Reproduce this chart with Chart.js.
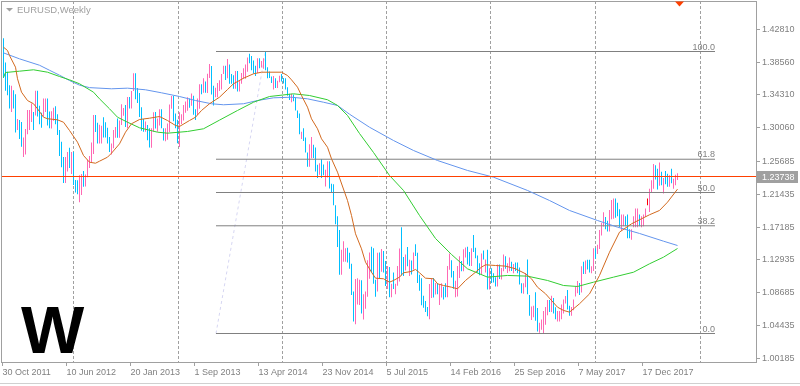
<!DOCTYPE html>
<html>
<head>
<meta charset="utf-8">
<script src="https://cdn.jsdelivr.net/npm/chart.js@4.4.0/dist/chart.umd.min.js"></script>
<style>
  html, body { margin: 0; padding: 0; background: #ffffff; }
  canvas { display: block; }
</style>
</head>
<body>
<canvas id="chart" width="800" height="386"></canvas>
<script>
// EURUSD weekly bars, week 0 = 30 Oct 2011 (one entry per week)
const high2011 = [1.4165, 1.3850, 1.3730, 1.3555, 1.3550, 1.3490, 1.3440, 1.3120, 1.3105];
const low2011  = [1.3650, 1.3485, 1.3425, 1.3255, 1.3210, 1.3255, 1.2945, 1.2975, 1.2860];
const dir2011  = [-1, -1, -1, -1, 1, -1, -1, 1, -1];

const high2012 = [1.3080, 1.2880, 1.2990, 1.3235, 1.3235, 1.3320, 1.3210, 1.3485, 1.3485, 1.3290,
  1.3200, 1.3385, 1.3385, 1.3385, 1.3215, 1.3220, 1.3265, 1.3285, 1.3180, 1.2975,
  1.2825, 1.2625, 1.2625, 1.2690, 1.2745, 1.2690, 1.2690, 1.2330, 1.2325, 1.2390,
  1.2405, 1.2445, 1.2400, 1.2590, 1.2640, 1.2815, 1.3170, 1.3170, 1.3070, 1.3045,
  1.3030, 1.3140, 1.3075, 1.3005, 1.2885, 1.2800, 1.2975, 1.3015, 1.3125, 1.3100,
  1.3310, 1.3260, 1.3300];
const low2012 = [1.2760, 1.2625, 1.2660, 1.2920, 1.2975, 1.3080, 1.2975, 1.3165, 1.3150, 1.3050,
  1.3005, 1.3150, 1.3210, 1.3035, 1.3000, 1.2995, 1.3095, 1.3050, 1.2910, 1.2640,
  1.2495, 1.2290, 1.2290, 1.2440, 1.2485, 1.2405, 1.2265, 1.2165, 1.2145, 1.2040,
  1.2135, 1.2240, 1.2245, 1.2365, 1.2485, 1.2560, 1.2665, 1.2950, 1.2800, 1.2800,
  1.2800, 1.2880, 1.2880, 1.2800, 1.2690, 1.2660, 1.2740, 1.2875, 1.2875, 1.2875,
  1.3040, 1.3160, 1.3015];
const dir2012 = [-1, 1, 1, 1, 1, 1, -1, 1, -1, -1,
  -1, 1, 1, -1, -1, 1, 1, -1, -1, -1,
  -1, -1, 1, 1, -1, 1, -1, -1, -1, 1,
  1, -1, 1, 1, 1, 1, 1, -1, -1, 1,
  1, -1, -1, -1, -1, 1, 1, 1, -1, 1,
  1, 1, -1];

const high2013 = [1.3405, 1.3405, 1.3480, 1.3710, 1.3710, 1.3520, 1.3455, 1.3270, 1.3120, 1.3085,
  1.3040, 1.3000, 1.3000, 1.3205, 1.3210, 1.3125, 1.3245, 1.3245, 1.3000, 1.3000,
  1.3060, 1.3305, 1.3415, 1.3415, 1.3190, 1.3110, 1.3205, 1.3180, 1.3300, 1.3345,
  1.3400, 1.3385, 1.3450, 1.3420, 1.3245, 1.3385, 1.3570, 1.3570, 1.3645, 1.3605,
  1.3705, 1.3830, 1.3805, 1.3550, 1.3525, 1.3585, 1.3620, 1.3700, 1.3810, 1.3810,
  1.3895, 1.3825];
const low2013 = [1.3000, 1.3255, 1.3255, 1.3480, 1.3375, 1.3325, 1.3145, 1.2965, 1.2955, 1.2955,
  1.2845, 1.2750, 1.2745, 1.2955, 1.2995, 1.2955, 1.3035, 1.3000, 1.2840, 1.2830,
  1.2850, 1.2950, 1.3250, 1.3090, 1.3000, 1.2805, 1.2755, 1.3055, 1.3100, 1.3200,
  1.3225, 1.3265, 1.3290, 1.3175, 1.3105, 1.3170, 1.3250, 1.3440, 1.3460, 1.3460,
  1.3455, 1.3650, 1.3435, 1.3295, 1.3400, 1.3400, 1.3480, 1.3500, 1.3700, 1.3625,
  1.3645, 1.3575];
const dir2013 = [1, -1, 1, 1, -1, -1, -1, -1, -1, 1,
  -1, -1, 1, 1, -1, 1, 1, -1, -1, 1,
  1, 1, 1, -1, -1, -1, 1, 1, 1, 1,
  1, -1, 1, -1, -1, 1, 1, -1, 1, -1,
  1, 1, -1, -1, 1, 1, 1, 1, 1, -1,
  1, -1];

const high2014 = [1.3700, 1.3685, 1.3740, 1.3740, 1.3620, 1.3715, 1.3775, 1.3825, 1.3915, 1.3965,
  1.3935, 1.3875, 1.3810, 1.3905, 1.3905, 1.3870, 1.3905, 1.3993, 1.3790, 1.3735,
  1.3670, 1.3675, 1.3645, 1.3615, 1.3680, 1.3700, 1.3650, 1.3645, 1.3530, 1.3445,
  1.3445, 1.3435, 1.3390, 1.3230, 1.3190, 1.2955, 1.3000, 1.2880, 1.2685, 1.2790,
  1.2885, 1.2785, 1.2750, 1.2525, 1.2545, 1.2600, 1.2530, 1.2460, 1.2570, 1.2570,
  1.2280, 1.2275];
const low2014 = [1.3575, 1.3510, 1.3510, 1.3475, 1.3475, 1.3575, 1.3640, 1.3640, 1.3730, 1.3840,
  1.3750, 1.3705, 1.3675, 1.3715, 1.3775, 1.3785, 1.3770, 1.3750, 1.3645, 1.3650,
  1.3585, 1.3500, 1.3520, 1.3520, 1.3595, 1.3605, 1.3580, 1.3500, 1.3420, 1.3365,
  1.3335, 1.3350, 1.3230, 1.3130, 1.2920, 1.2860, 1.2835, 1.2685, 1.2500, 1.2500,
  1.2610, 1.2615, 1.2440, 1.2355, 1.2395, 1.2355, 1.2390, 1.2245, 1.2360, 1.2220,
  1.2165, 1.2000];
const dir2014 = [-1, -1, 1, -1, 1, 1, 1, 1, 1, -1,
  -1, -1, -1, 1, -1, 1, 1, -1, -1, -1,
  -1, 1, -1, 1, 1, -1, -1, -1, -1, -1,
  1, -1, -1, -1, -1, 1, -1, -1, -1, 1,
  1, -1, -1, -1, 1, -1, -1, 1, 1, -1,
  -1, -1];

const high2015 = [1.2000, 1.1860, 1.1680, 1.1425, 1.1535, 1.1445, 1.1450, 1.1385, 1.1245, 1.0885,
  1.1045, 1.1055, 1.1035, 1.1030, 1.0850, 1.0885, 1.1290, 1.1390, 1.1465, 1.1445,
  1.1035, 1.1385, 1.1390, 1.1435, 1.1410, 1.1280, 1.1215, 1.1200, 1.0985, 1.1130,
  1.0985, 1.1215, 1.1440, 1.1715, 1.1330, 1.1365, 1.1460, 1.1295, 1.1285, 1.1390,
  1.1495, 1.1385, 1.1100, 1.1055, 1.0830, 1.0760, 1.0685, 1.0980, 1.1045, 1.1060,
  1.0995, 1.0995];
const low2015 = [1.1755, 1.1460, 1.1100, 1.1100, 1.1270, 1.1270, 1.1260, 1.1180, 1.0840, 1.0495,
  1.0460, 1.0715, 1.0710, 1.0600, 1.0520, 1.0660, 1.0815, 1.1050, 1.1130, 1.0985,
  1.0815, 1.0885, 1.1050, 1.1140, 1.1130, 1.0955, 1.0915, 1.0810, 1.0810, 1.0915,
  1.0850, 1.0960, 1.1015, 1.1090, 1.1085, 1.1155, 1.1210, 1.1085, 1.1105, 1.1170,
  1.1345, 1.0995, 1.0895, 1.0705, 1.0675, 1.0620, 1.0565, 1.0525, 1.0800, 1.0805,
  1.0845, 1.0850];
const dir2015 = [-1, -1, -1, 1, 1, 1, -1, -1, -1, -1,
  1, 1, 1, -1, 1, 1, 1, 1, -1, -1,
  -1, 1, -1, 1, -1, -1, 1, -1, 1, -1,
  1, 1, 1, -1, -1, 1, -1, 1, -1, 1,
  -1, -1, -1, -1, -1, -1, -1, 1, 1, -1,
  1, -1];

const high2016 = [1.0970, 1.0990, 1.0945, 1.0990, 1.1215, 1.1375, 1.1290, 1.1150, 1.1025, 1.1215,
  1.1340, 1.1280, 1.1430, 1.1455, 1.1465, 1.1395, 1.1445, 1.1615, 1.1450, 1.1350,
  1.1250, 1.1375, 1.1415, 1.1300, 1.1425, 1.1185, 1.1185, 1.1120, 1.1070, 1.1235,
  1.1235, 1.1190, 1.1365, 1.1340, 1.1250, 1.1325, 1.1270, 1.1240, 1.1260, 1.1260,
  1.1195, 1.0990, 1.0990, 1.1125, 1.1300, 1.0840, 1.0690, 1.0700, 1.0875, 1.0670,
  1.0480, 1.0520];
const low2016 = [1.0710, 1.0805, 1.0780, 1.0810, 1.0810, 1.1165, 1.1065, 1.0920, 1.0810, 1.0820,
  1.1060, 1.1145, 1.1145, 1.1325, 1.1235, 1.1215, 1.1215, 1.1395, 1.1315, 1.1130,
  1.1095, 1.1100, 1.1300, 1.1130, 1.0910, 1.0910, 1.0995, 1.1000, 1.0950, 1.0950,
  1.1045, 1.1040, 1.1145, 1.1180, 1.1125, 1.1145, 1.1150, 1.1120, 1.1150, 1.1120,
  1.0975, 1.0860, 1.0855, 1.0940, 1.0850, 1.0570, 1.0515, 1.0550, 1.0505, 1.0365,
  1.0350, 1.0390];
const dir2016 = [1, 1, -1, -1, 1, 1, -1, -1, 1, 1,
  1, -1, 1, 1, -1, -1, 1, -1, -1, -1,
  -1, 1, -1, 1, -1, 1, -1, -1, -1, 1,
  -1, 1, 1, -1, 1, 1, -1, 1, -1, -1,
  -1, -1, 1, 1, -1, -1, 1, 1, -1, -1,
  1, 1];

const high2017 = [1.0630, 1.0685, 1.0775, 1.0775, 1.0830, 1.0800, 1.0680, 1.0630, 1.0630, 1.0715,
  1.0780, 1.0825, 1.0905, 1.0700, 1.0685, 1.0780, 1.0950, 1.1020, 1.0995, 1.1210,
  1.1270, 1.1285, 1.1295, 1.1295, 1.1210, 1.1445, 1.1445, 1.1490, 1.1680, 1.1775,
  1.1910, 1.1850, 1.1800, 1.1940, 1.2070, 1.2090, 1.2090, 1.2035, 1.1950, 1.1880,
  1.1880, 1.1860, 1.1880, 1.1690, 1.1690, 1.1860, 1.1960, 1.1960, 1.1880, 1.1860,
  1.1880, 1.1960, 1.2090];
const low2017 = [1.0340, 1.0455, 1.0575, 1.0620, 1.0620, 1.0600, 1.0525, 1.0495, 1.0495, 1.0525,
  1.0600, 1.0730, 1.0650, 1.0570, 1.0570, 1.0640, 1.0820, 1.0860, 1.0840, 1.0870,
  1.1110, 1.1110, 1.1170, 1.1130, 1.1120, 1.1150, 1.1310, 1.1370, 1.1435, 1.1610,
  1.1725, 1.1690, 1.1660, 1.1660, 1.1820, 1.1825, 1.1840, 1.1860, 1.1715, 1.1670,
  1.1730, 1.1730, 1.1575, 1.1575, 1.1555, 1.1715, 1.1715, 1.1715, 1.1730, 1.1715,
  1.1730, 1.1850, 1.2000];
const dir2017 = [1, 1, 1, -1, 1, -1, -1, 1, 1, 1,
  1, 1, -1, -1, 1, 1, 1, 1, -1, 1,
  -1, 1, -1, -1, 1, 1, -1, 1, 1, 1,
  1, -1, -1, 1, 1, 1, -1, -1, -1, 1,
  1, -1, -1, -1, 1, 1, 1, 1, -1, 1,
  1, 1, 0];

const high2018 = [1.2215, 1.2325, 1.2535, 1.2520, 1.2475, 1.2555, 1.2435, 1.2355, 1.2445, 1.2410,
  1.2390, 1.2475, 1.2345, 1.2395, 1.2415];
const low2018 = [1.1915, 1.2165, 1.2215, 1.2335, 1.2205, 1.2255, 1.2260, 1.2155, 1.2275, 1.2240,
  1.2240, 1.2285, 1.2215, 1.2260, 1.2330];
const dir2018 = [1, 1, 1, -1, -1, 1, -1, 1, -1, -1, 1, -1, 1, 1, 1];

// moving averages (week index, price)
const slowWeeks = [0, 8, 18, 23, 28, 33, 38, 43, 54, 62, 71, 79, 88, 96, 104, 110, 120, 127, 135, 144,
  152, 160, 167, 173, 183, 195, 205, 217, 232, 245, 262, 273, 283, 297, 307, 318, 330, 337];
const slowValues = [1.3975, 1.3898, 1.3815, 1.3750, 1.3686, 1.3617, 1.3557, 1.3525, 1.3510, 1.3518,
  1.3497, 1.3458, 1.3410, 1.3358, 1.3316, 1.3303, 1.3316, 1.3358, 1.3393, 1.3401,
  1.3380, 1.3336, 1.3294, 1.3181, 1.3012, 1.2840, 1.2711, 1.2581, 1.2452, 1.2365,
  1.2193, 1.2063, 1.1934, 1.1804, 1.1718, 1.1636, 1.1536, 1.1480];

const midWeeks = [0, 1, 8, 15, 22, 28, 33, 38, 45, 48, 53, 57, 62, 68, 77, 82, 92, 100, 108, 117,
  125, 133, 145, 153, 162, 167, 172, 178, 185, 193, 200, 208, 216, 224, 232, 242, 252, 262, 272, 280,
  287, 295, 305, 315, 323, 330, 337];
const midValues = [1.3656, 1.3721, 1.3738, 1.3756, 1.3725, 1.3669, 1.3626, 1.3575, 1.3466, 1.3380,
  1.3251, 1.3142, 1.3077, 1.3005, 1.2948, 1.2935, 1.2957, 1.2992, 1.3104, 1.3229,
  1.3336, 1.3410, 1.3445, 1.3423, 1.3368, 1.3294, 1.3164, 1.2931, 1.2685, 1.2387,
  1.2193, 1.1869, 1.1571, 1.1364, 1.1178, 1.1070, 1.1092, 1.1083, 1.1027, 1.0962,
  1.0949, 1.1005, 1.1070, 1.1134, 1.1243, 1.1329, 1.1441];

const fastWeeks = [0, 2, 3, 6, 7, 9, 12, 15, 17, 20, 22, 27, 30, 33, 37, 40, 43, 46, 48, 52,
  54, 58, 61, 64, 68, 73, 78, 82, 86, 88, 93, 96, 99, 103, 108, 112, 115, 120, 125, 129,
  139, 142, 144, 147, 149, 152, 154, 157, 159, 162, 164, 167, 172, 174, 176, 179, 181, 184, 186, 190,
  193, 195, 198, 200, 204, 206, 208, 211, 215, 217, 220, 224, 227, 231, 236, 239, 241, 246, 251, 256,
  261, 264, 267, 271, 274, 277, 280, 283, 288, 293, 298, 303, 308, 314, 319, 323, 328, 332, 337];
const fastValues = [1.4049, 1.4006, 1.3941, 1.3790, 1.3640, 1.3466, 1.3358, 1.3316, 1.3251, 1.3142,
  1.3122, 1.3108, 1.3077, 1.2970, 1.2818, 1.2646, 1.2559, 1.2546, 1.2572, 1.2624,
  1.2676, 1.2797, 1.2948, 1.3057, 1.3112, 1.3129, 1.3151, 1.3099, 1.3035, 1.3022,
  1.3099, 1.3142, 1.3229, 1.3316, 1.3401, 1.3500, 1.3575, 1.3647, 1.3704, 1.3725,
  1.3725, 1.3682, 1.3626, 1.3531, 1.3423, 1.3272, 1.3121, 1.2992, 1.2862, 1.2753,
  1.2603, 1.2430, 1.2063, 1.1869, 1.1632, 1.1437, 1.1264, 1.1134, 1.1057, 1.1049,
  1.1005, 1.1027, 1.1070, 1.1127, 1.1144, 1.1170, 1.1127, 1.1057, 1.1049, 1.0984,
  1.0962, 1.0940, 1.0919, 1.1027, 1.1134, 1.1200, 1.1230, 1.1221, 1.1213, 1.1179,
  1.1114, 1.1049, 1.0940, 1.0855, 1.0768, 1.0681, 1.0639, 1.0617, 1.0725, 1.0853,
  1.1092, 1.1393, 1.1653, 1.1761, 1.1826, 1.1878, 1.1934, 1.2041, 1.2210];

// fibonacci retracement (drawn from week 106.25 / 131, levels extend to week 355.75)
const fibLevels = [0, 38.2, 50, 61.8, 100];
const fibLow = 1.0340, fibHigh = 1.3993;
const fibFrom = 106.25, fibAnchor = 131, fibTo = 355.75;

const lastPrice = 1.23738;
const shiftMarkWeek = 338;

const dateTickWeeks = [0, 32, 64, 96, 128, 160, 192, 224, 256, 288, 320];
const dateLabels = ['30 Oct 2011', '10 Jun 2012', '20 Jan 2013', '1 Sep 2013', '13 Apr 2014', '23 Nov 2014',
  '5 Jul 2015', '14 Feb 2016', '25 Sep 2016', '7 May 2017', '17 Dec 2017'];
const yearStartWeeks = [9, 62, 114, 166, 218, 270, 323, 375];
const priceTicks = [1.00185, 1.04435, 1.08685, 1.12935, 1.17185, 1.21435, 1.25685, 1.30060, 1.34310, 1.38560, 1.42810];

const xMin = -1.25, xMax = 376.25;
const yMin = 0.997098, yMax = 1.464715;

// ---------------------------------------------------------------
const barHigh = [].concat(high2011, high2012, high2013, high2014, high2015, high2016, high2017, high2018);
const barLow = [].concat(low2011, low2012, low2013, low2014, low2015, low2016, low2017, low2018);
const barDir = [].concat(dir2011, dir2012, dir2013, dir2014, dir2015, dir2016, dir2017, dir2018);

const FONT = 'Liberation Sans';
const axisText = '#808080';
const frameColor = '#A0A0A0';

Chart.defaults.font.family = FONT;

function toPoints(xs, ys) {
  return xs.map((x, i) => ({ x: x, y: ys[i] }));
}
function fibPrice(level) {
  return fibLow + (fibHigh - fibLow) * level / 100;
}
// high-low bars of one direction (1 up, -1 down, 0 flat)
function barsFor(dir) {
  const out = [];
  barHigh.forEach((h, i) => {
    if (barDir[i] === dir) out.push({ x: i, y: [barLow[i], h] });
  });
  return out;
}

function lineSet(data, color, order, extra) {
  return Object.assign({
    type: 'line', data: data, borderColor: color, borderWidth: 1,
    pointRadius: 0, fill: false, tension: 0, order: order,
    xAxisID: 'x', yAxisID: 'y'
  }, extra || {});
}
function barSet(dir, color) {
  return {
    type: 'bar', data: barsFor(dir), backgroundColor: color, borderColor: color, borderWidth: 0,
    barThickness: 1, inflateAmount: 0, grouped: false, order: 5,
    xAxisID: 'x', yAxisID: 'y'
  };
}

const datasets = [
  lineSet([{ x: xMin, y: lastPrice }, { x: xMax, y: lastPrice }], '#FF4000', 0),
  lineSet(toPoints(fastWeeks, fastValues), '#D2691E', 1),
  lineSet(toPoints(midWeeks, midValues), '#32CD32', 2),
  lineSet(toPoints(slowWeeks, slowValues), '#6495ED', 3)
];
fibLevels.forEach(l => {
  datasets.push(lineSet([{ x: fibFrom, y: fibPrice(l) }, { x: fibTo, y: fibPrice(l) }], '#808080', 4));
});
datasets.push(barSet(1, '#FF69B4'));
datasets.push(barSet(-1, '#00BFFF'));
datasets.push(barSet(0, '#FF0000'));
datasets.push(lineSet([{ x: fibFrom, y: fibLow }, { x: fibAnchor, y: fibHigh }], '#D6D6F2', 6, { borderDash: [3, 3] }));

// text, frame and labels that MT4 paints around the plot
const decorations = {
  id: 'decorations',
  afterDatasetsDraw(chart) {
    const { ctx, scales: { x, y } } = chart;
    ctx.save();
    ctx.font = '9px "' + FONT + '"';
    ctx.fillStyle = '#808080';
    ctx.textAlign = 'right';
    ctx.textBaseline = 'alphabetic';
    const xr = x.getPixelForValue(fibTo);
    fibLevels.forEach(l => {
      const py = Math.round(y.getPixelForValue(fibPrice(l)));
      ctx.fillText(l.toFixed(1), xr, py - 2);
    });
    ctx.restore();
  },
  afterDraw(chart) {
    const { ctx, chartArea: a, scales: { x, y } } = chart;
    ctx.save();
    // frame
    ctx.strokeStyle = frameColor;
    ctx.lineWidth = 1;
    ctx.strokeRect(a.left + 0.5, a.top + 0.5, a.right - a.left, a.bottom - a.top);
    ctx.strokeStyle = '#D0D0D0';
    ctx.beginPath();
    ctx.moveTo(0, 383.5);
    ctx.lineTo(800, 383.5);
    ctx.stroke();

    // symbol title
    ctx.fillStyle = '#A0A0A0';
    ctx.beginPath();
    ctx.moveTo(6, 8);
    ctx.lineTo(13, 8);
    ctx.lineTo(9.5, 11.5);
    ctx.closePath();
    ctx.fill();
    ctx.font = '9.5px "' + FONT + '"';
    ctx.textAlign = 'left';
    ctx.textBaseline = 'alphabetic';
    ctx.fillText('EURUSD,Weekly', 17, 13);

    // big period letter
    ctx.fillStyle = '#000000';
    ctx.font = 'bold 67px "' + FONT + '"';
    ctx.fillText('W', 21, 353);

    // last price tag on the axis
    const py = Math.round(y.getPixelForValue(lastPrice));
    ctx.fillStyle = '#A0A0A0';
    ctx.fillRect(a.right + 1, py - 6, 41, 12);
    ctx.fillStyle = '#FFFFFF';
    ctx.font = '9px "' + FONT + '"';
    ctx.textBaseline = 'middle';
    ctx.fillText(lastPrice.toFixed(5), a.right + 6, py + 0.5);

    // chart shift marker
    const mx = x.getPixelForValue(shiftMarkWeek);
    ctx.fillStyle = '#FF4000';
    ctx.beginPath();
    ctx.moveTo(mx - 4.5, 1.5);
    ctx.lineTo(mx + 4.5, 1.5);
    ctx.lineTo(mx, 6.5);
    ctx.closePath();
    ctx.fill();
    ctx.restore();
  }
};

new Chart(document.getElementById('chart'), {
  type: 'bar',
  data: { datasets: datasets },
  plugins: [decorations],
  options: {
    responsive: false,
    animation: false,
    devicePixelRatio: 1,
    events: [],
    layout: { padding: { left: 1, top: 1, right: 0, bottom: 0 } },
    plugins: { legend: { display: false }, tooltip: { enabled: false } },
    scales: {
      x: {
        type: 'linear', position: 'bottom', min: xMin, max: xMax, bounds: 'data', offset: false,
        afterBuildTicks: s => { s.ticks = dateTickWeeks.map(w => ({ value: w - 0.5 })); },
        afterFit: s => { s.height = 24; s.paddingLeft = 0; s.paddingRight = 0; },
        ticks: {
          autoSkip: false, maxRotation: 0, minRotation: 0, align: 'start', padding: 1,
          color: axisText, font: { family: FONT, size: 9 },
          callback: (v, i) => dateLabels[i]
        },
        grid: { offset: false, drawOnChartArea: false, drawTicks: true, tickLength: 4, color: frameColor },
        border: { display: false }
      },
      xGrid: {
        type: 'linear', position: 'bottom', min: xMin, max: xMax, bounds: 'data', offset: false,
        afterBuildTicks: s => { s.ticks = yearStartWeeks.map(w => ({ value: w - 0.52 })); },
        afterFit: s => { s.height = 0; s.paddingLeft = 0; s.paddingRight = 0; },
        ticks: { display: false },
        grid: { drawTicks: false, drawOnChartArea: true, color: frameColor, lineWidth: 1 },
        border: { display: false, dash: [3, 2] }
      },
      y: {
        type: 'linear', position: 'right', min: yMin, max: yMax, bounds: 'data',
        afterBuildTicks: s => { s.ticks = priceTicks.map(v => ({ value: v })); },
        afterFit: s => { s.width = 44; s.paddingTop = 0; s.paddingBottom = 0; },
        ticks: {
          padding: 2, color: axisText, font: { family: FONT, size: 9 },
          callback: v => v.toFixed(5)
        },
        grid: { drawOnChartArea: false, drawTicks: true, tickLength: 4, color: frameColor },
        border: { display: false }
      }
    }
  }
});
</script>
</body>
</html>
